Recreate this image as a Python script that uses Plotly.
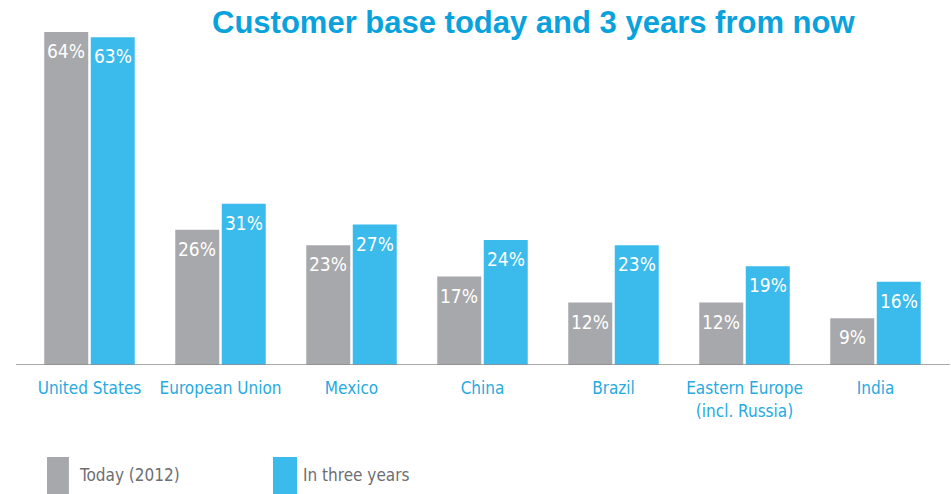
import plotly.graph_objects as go

categories = ["United States", "European Union", "Mexico", "China", "Brazil",
              "Eastern Europe<br>(incl. Russia)", "India"]
today_2012 = [64, 26, 23, 17, 12, 12, 9]
in_three_years = [63, 31, 27, 24, 23, 19, 16]
series_names = ["Today (2012)", "In three years"]
title_text = "Customer base today and 3 years from now"

GRAY = "#a7a8ab"
BLUE = "#3bbbec"
LABEL_BLUE = "#27aae1"
NARROW = "Liberation Sans Narrow, DejaVu Sans Condensed, Arial Narrow, sans-serif"

fig = go.Figure()
fig.add_trace(go.Bar(x=categories, y=today_2012, name=series_names[0],
                     marker=dict(color=GRAY, line=dict(width=0))))
fig.add_trace(go.Bar(x=categories, y=in_three_years, name=series_names[1],
                     marker=dict(color=BLUE, line=dict(width=0))))

annotations = []
for vals, shift in ((today_2012, -23.5), (in_three_years, 23.5)):
    for c, v in zip(categories, vals):
        annotations.append(dict(x=c, y=v, xref="x", yref="y", text=f"{v}%",
                                showarrow=False, xshift=shift, yshift=-6,
                                yanchor="top", xanchor="center",
                                font=dict(family=NARROW, size=19, color="white")))

# manual legend (swatches + labels)
legend_items = [(series_names[0], GRAY, 0.0251, 0.049, 0.0578),
                (series_names[1], BLUE, 0.2715, 0.2977, 0.302)]
shapes = [dict(type="line", xref="paper", yref="y", x0=-0.0087, x1=1.0098,
               y0=0, y1=0, line=dict(color="#8c8c8c", width=1.5))]
for name, col, x0, x1, tx in legend_items:
    shapes.append(dict(type="rect", xref="paper", yref="paper", x0=x0, x1=x1,
                       y0=-0.38, y1=-0.2667, fillcolor=col, line=dict(width=0)))
    annotations.append(dict(x=tx, y=-0.3188, xref="paper", yref="paper", text=name,
                            showarrow=False, xanchor="left", yanchor="middle",
                            font=dict(family=NARROW, size=17, color="#6d6e71")))

annotations.append(dict(x=(533.5 - 24) / 917, y=(365 - 22) / 345, xref="paper", yref="paper",
                        text="<b>" + title_text + "</b>", showarrow=False,
                        xanchor="center", yanchor="middle", borderpad=0,
                        font=dict(family="Liberation Sans, Arial, sans-serif", size=31,
                                  color="#0aa2dd")))

fig.update_layout(
    width=951, height=494,
    margin=dict(l=24, r=10, t=20, b=129),
    paper_bgcolor="white", plot_bgcolor="white",
    barmode="group", bargap=0.29, bargroupgap=0.054,
    showlegend=False, hovermode=False,
    annotations=annotations, shapes=shapes,
    xaxis=dict(showgrid=False, showline=False, ticks="outside", ticklen=8,
               tickcolor="rgba(0,0,0,0)", automargin=False,
               tickfont=dict(family=NARROW, size=17, color=LABEL_BLUE)),
    yaxis=dict(range=[0, 66.3], visible=False, showgrid=False, zeroline=False,
               automargin=False),
)

fig.write_html("out.html", config={"displayModeBar": False},
               post_script="document.body.style.margin='0';document.body.style.overflow='hidden';")
